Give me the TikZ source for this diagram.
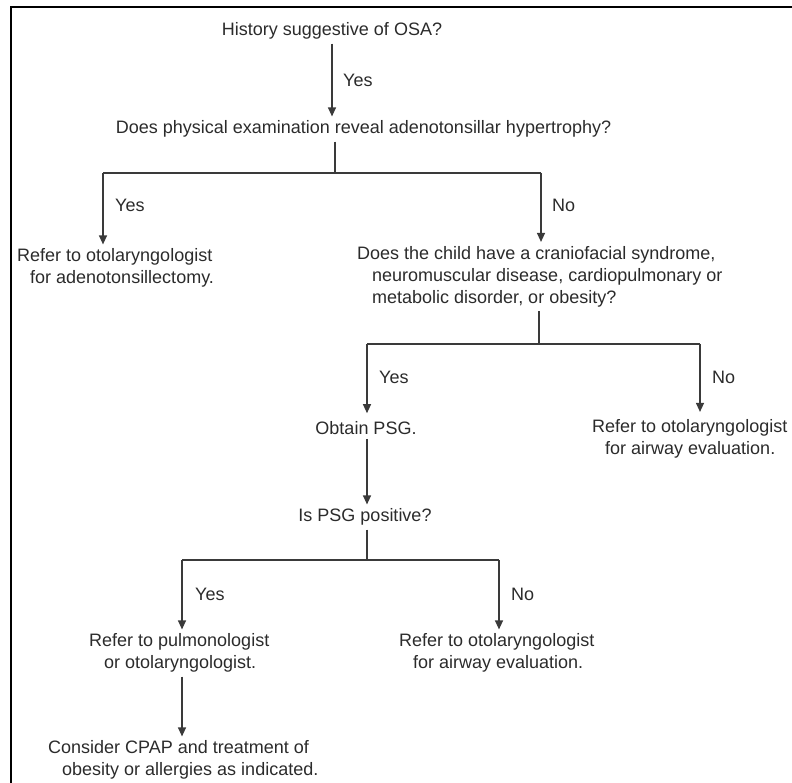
\documentclass[tikz,border=0pt]{standalone}
\usepackage{fontspec}
\setmainfont{Liberation Sans}
\usetikzlibrary{arrows.meta}
\definecolor{ink}{HTML}{2B2B2B}
\definecolor{wire}{HTML}{3A3A3A}
\begin{document}
\begin{tikzpicture}[x=1pt,y=-1pt,
  every node/.style={font=\fontsize{18}{22}\selectfont, text=ink, inner xsep=0pt, inner ysep=4pt},
  txt/.style={anchor=center},
  hang/.style={anchor=west, align=left},
  lbl/.style={anchor=west},
  wirestyle/.style={draw=wire, line width=1.2pt},
  arr/.style={wirestyle, -{Triangle[width=8pt,length=9pt]}},
  frame/.style={draw=black, line width=2pt}]
\useasboundingbox (0,0) rectangle (792,783);

% frame edges (top and left)
\draw[frame] (800,7) -- (11,7) -- (11,790);

% decision texts and outcomes
\node[txt]  (q1)  at (332,31)    {History suggestive of OSA?};
\node[txt]  (q2)  at (363.5,129) {Does physical examination reveal adenotonsillar hypertrophy?};
\node[hang] (r1)  at (17,268)    {Refer to otolaryngologist\\\hspace*{13pt}for adenotonsillectomy.};
\node[hang] (q3)  at (357,276.5) {Does the child have a craniofacial syndrome,\\\hspace*{15pt}neuromuscular disease, cardiopulmonary or\\\hspace*{15pt}metabolic disorder, or obesity?};
\node[txt]  (psg) at (366,428)   {Obtain PSG.};
\node[hang] (r2)  at (592,438.5) {Refer to otolaryngologist\\\hspace*{13pt}for airway evaluation.};
\node[txt]  (q4)  at (365,517)   {Is PSG positive?};
\node[hang] (r3)  at (89,653)    {Refer to pulmonologist\\\hspace*{15pt}or otolaryngologist.};
\node[hang] (r4)  at (399,653)   {Refer to otolaryngologist\\\hspace*{14pt}for airway evaluation.};
\node[hang] (r5)  at (48,760)    {Consider CPAP and treatment of\\\hspace*{14pt}obesity or allergies as indicated.};

% branch points
\coordinate (j1)  at (335,173);
\coordinate (b1l) at (103,173);
\coordinate (b1r) at (541,173);
\coordinate (j2)  at (539,344);
\coordinate (b2l) at (367,344);
\coordinate (b2r) at (700,344);
\coordinate (j3)  at (367,560);
\coordinate (b3l) at (182,560);
\coordinate (b3r) at (499,560);

% connectors
\draw[arr] (q1.south) -- (q1.south |- q2.north);

\draw[wirestyle] (q2.south -| j1) -- (j1);
\draw[wirestyle] (b1l) -- (b1r);
\draw[arr] (b1l) -- (b1l |- r1.north);
\draw[arr] (b1r) -- (b1r |- q3.north);

\draw[wirestyle] (q3.south -| j2) -- (j2);
\draw[wirestyle] (b2l) -- (b2r);
\draw[arr] (b2l) -- ([yshift=4pt]b2l |- psg.north);
\draw[arr] (b2r) -- ([yshift=3pt]b2r |- r2.north);

\draw[arr] (psg.south -| b2l) -- (b2l |- q4.north);

\draw[wirestyle] (q4.south -| j3) -- (j3);
\draw[wirestyle] (b3l) -- (b3r);
\draw[arr] (b3l) -- (b3l |- r3.north);
\draw[arr] (b3r) -- (b3r |- r4.north);

\draw[arr] (r3.south -| b3l) -- (b3l |- r5.north);

% branch labels
\node[lbl] (y1) at (343,80)  {Yes};
\node[lbl] (y2) at (115,205) {Yes};
\node[lbl] (n1) at (552,205) {No};
\node[lbl] (y3) at (379,377) {Yes};
\node[lbl] (n2) at (712,377) {No};
\node[lbl] (y4) at (195,594) {Yes};
\node[lbl] (n3) at (511,594) {No};
\end{tikzpicture}
\end{document}
